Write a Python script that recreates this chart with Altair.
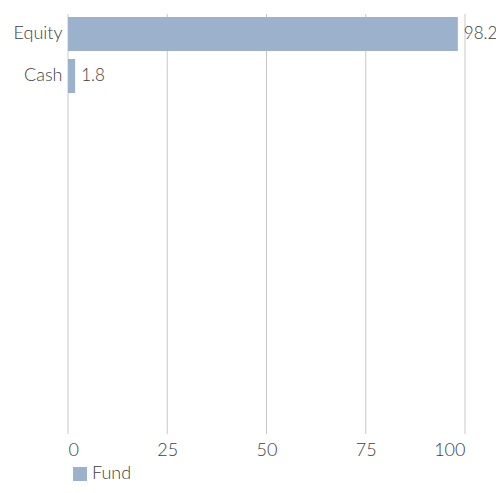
import altair as alt
import pandas as pd

categories = ["Equity", "Cash"]
values = [98.2, 1.8]
labels = ["98.2", "1.8"]
series = ["Fund", "Fund"]
ticks = [0, 25, 50, 75, 100]

df = pd.DataFrame({"cat": categories, "val": values, "lab": labels, "series": series})
gdf = pd.DataFrame({"t": ticks})

FONT = "Lato"
TXT = "#404040"
FS = 18
BAR = "#9bb1cc"
W, H = 397, 420

y_scale = alt.Scale(range=[0, 82], paddingInner=0.19, paddingOuter=0.07)
x_scale = alt.Scale(domain=[0, 100], nice=False)

grid = alt.Chart(gdf).mark_rule(color="#c8c8c8", strokeWidth=1).encode(
    x=alt.X("t:Q", scale=x_scale, title=None,
            axis=alt.Axis(values=ticks, ticks=False, domain=False, grid=False,
                          labelFontSize=FS, labelFont=FONT, labelColor=TXT,
                          labelFontWeight=300, labelPadding=7)),
    y=alt.value(0),
    y2=alt.value(H),
)

y_enc = alt.Y("cat:N", sort=categories, title=None, scale=y_scale,
              axis=alt.Axis(ticks=False, domain=False, labelFontSize=FS, labelFont=FONT,
                            labelColor=TXT, labelFontWeight=300, labelPadding=6,
                            grid=False))

bars = alt.Chart(df).mark_bar(color=BAR).encode(
    x=alt.X("val:Q", scale=x_scale),
    y=y_enc,
    color=alt.Color("series:N", title=None,
                    scale=alt.Scale(domain=["Fund"], range=[BAR]),
                    legend=alt.Legend(orient="none", legendX=3, legendY=451,
                                      padding=0,
                                      symbolType="square", symbolSize=196,
                                      symbolStrokeWidth=0, labelFontSize=FS,
                                      labelFont=FONT, labelColor=TXT,
                                      labelFontWeight=300,
                                      labelOffset=3, direction="horizontal")),
)

text = alt.Chart(df).mark_text(align="left", baseline="middle", dx=6, fontSize=17,
                               font=FONT, color=TXT, fontWeight=300).encode(
    x=alt.X("val:Q", scale=x_scale),
    y=alt.Y("cat:N", sort=categories, scale=y_scale),
    text="lab:N",
)

chart = (grid + bars + text).properties(
    width=W, height=H,
    padding={"left": 60, "top": 6, "right": 488 - 60 - W, "bottom": 477 - 6 - H},
    autosize=alt.AutoSizeParams(type="none"),
).configure_view(stroke=None)

chart.save("out.html", embed_options={"renderer": "svg", "actions": False})
